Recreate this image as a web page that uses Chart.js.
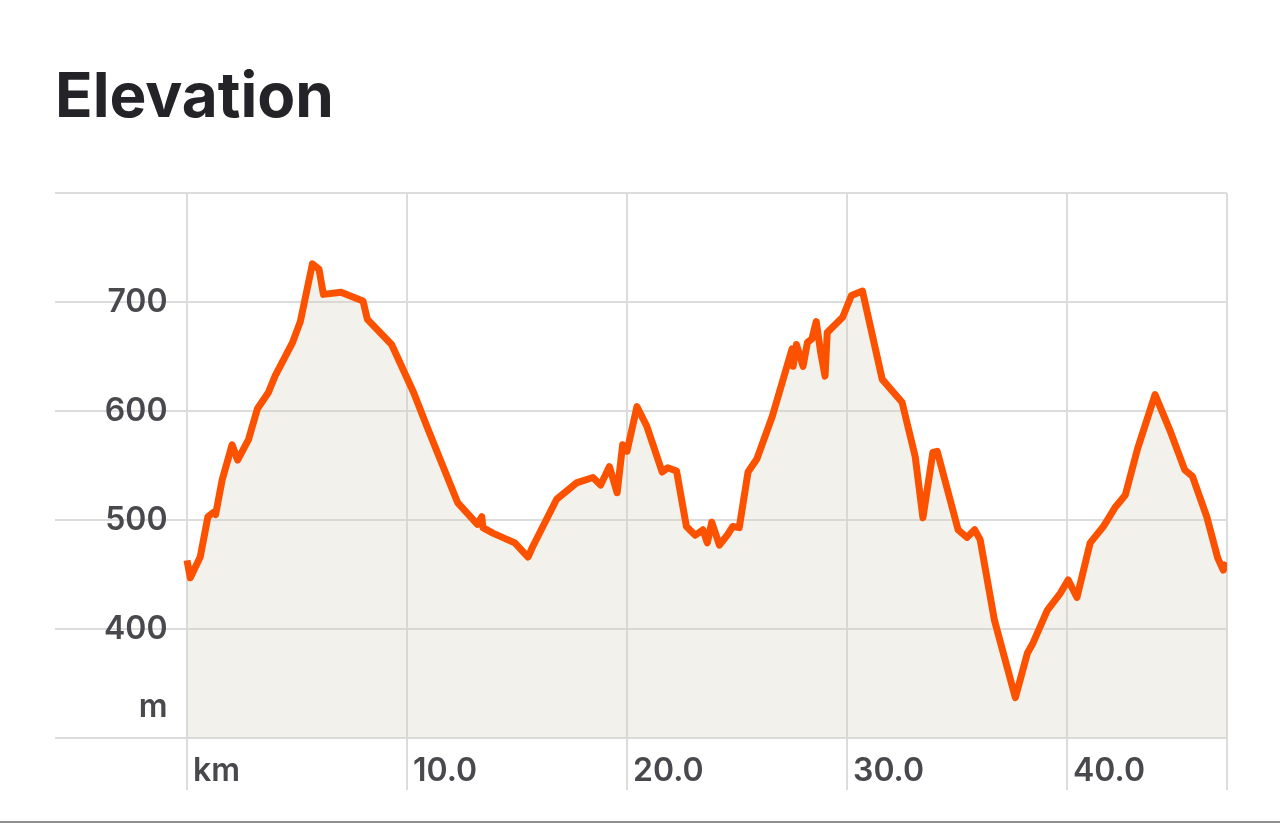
<!DOCTYPE html>
<html>
<head>
<meta charset="utf-8">
<script src="https://cdn.jsdelivr.net/npm/chart.js@4.4.1/dist/chart.umd.min.js"></script>
<style>
  html, body { margin: 0; padding: 0; background: #ffffff; }
  body { width: 1280px; height: 825px; position: relative; overflow: hidden; }
  #title { position: absolute; left: 55px; top: 64px; margin: 0; font: 700 62px Inter, "Noto Sans", sans-serif; line-height: 62px; color: #242428; }
  #wrap { position: absolute; left: 0; top: 0; width: 1280px; height: 825px; }
  #rule { position: absolute; left: 0; top: 821px; width: 1280px; height: 2px; background: #8e8e8e; }
</style>
</head>
<body>
<h1 id="title">Elevation</h1>
<div id="wrap"><canvas id="c" width="1280" height="825"></canvas></div>
<div id="rule"></div>
<script>
// Distance along the route (km)
const distanceKm = [
  0.0, 0.15, 0.6, 0.95, 1.2, 1.3, 1.6, 2.05, 2.3, 2.8, 3.2, 3.7, 4.0, 4.8, 5.15, 5.7, 6.0, 6.2, 7.0, 8.0,
  8.2, 9.3, 10.3, 10.9, 11.5, 12.3, 13.2, 13.4, 13.45, 13.9, 14.9, 15.5, 15.7, 16.8, 17.7, 18.45, 18.8, 19.2, 19.55, 19.8,
  20.0, 20.45, 20.9, 21.6, 21.85, 22.25, 22.7, 23.1, 23.45, 23.65, 23.85, 24.2, 24.55, 24.8, 25.1, 25.5, 25.9, 26.6, 27.05, 27.5,
  27.55, 27.7, 28.0, 28.2, 28.4, 28.6, 28.8, 29.0, 29.1, 29.8, 30.2, 30.7, 31.6, 32.5, 33.1, 33.45, 33.9, 34.1, 35.05, 35.45,
  35.8, 36.05, 36.7, 37.65, 38.2, 38.45, 39.1, 39.7, 40.05, 40.45, 41.05, 41.65, 42.2, 42.65, 43.2, 44.0, 44.7, 45.35, 45.7, 46.35,
  46.85, 47.1, 47.27
];
// Elevation (m)
const elevationM = [
  463, 447, 466, 503, 507, 505, 537, 569, 555, 574, 602, 617, 632, 663, 682, 735, 730, 707, 709, 701,
  684, 661, 617, 586, 556, 516, 496, 503, 493, 488, 479, 466, 475, 519, 534, 539, 532, 549, 525, 569,
  563, 604, 586, 544, 548, 545, 494, 486, 491, 479, 498, 477, 486, 494, 493, 544, 556, 595, 626, 657,
  641, 661, 641, 663, 666, 682, 654, 632, 672, 686, 706, 710, 629, 608, 558, 502, 562, 563, 491, 484,
  491, 482, 408, 337, 378, 387, 417, 433, 445, 429, 479, 494, 512, 523, 565, 615, 581, 546, 540, 503,
  465, 454, 461
];
// Axis ticks
const xTickValues = [0, 10, 20, 30, 40, 47.27];
const xTickLabels = ['km', '10.0', '20.0', '30.0', '40.0', ''];
const yTickValues = [300, 328, 400, 500, 600, 700, 800];
const yTickLabels = ['', 'm', '400', '500', '600', '700', ''];

const points = distanceKm.map((d, i) => ({ x: d, y: elevationM[i] }));
const gridColor = '#dcdcdc';
const tickFont = { family: 'Inter, "Noto Sans", sans-serif', size: 32, weight: '600', lineHeight: '40px' };

new Chart(document.getElementById('c'), {
  type: 'line',
  data: {
    datasets: [{
      data: points,
      borderColor: '#fc5200',
      borderWidth: 7,
      borderJoinStyle: 'round',
      borderCapStyle: 'butt',
      backgroundColor: 'rgba(214,208,190,0.30)',
      fill: 'start',
      pointRadius: 0,
      tension: 0
    }]
  },
  options: {
    responsive: false,
    animation: false,
    events: [],
    layout: { padding: { left: -43, right: 53, top: 193, bottom: 33 } },
    plugins: { legend: { display: false }, tooltip: { enabled: false }, title: { display: false } },
    scales: {
      x: {
        type: 'linear',
        min: -6,
        max: 47.27,
        afterBuildTicks: (scale) => { scale.ticks = xTickValues.map(v => ({ value: v })); },
        border: { display: false },
        grid: { color: gridColor, lineWidth: 2, drawTicks: true, tickLength: 52, tickColor: gridColor },
        ticks: {
          align: 'start',
          crossAlign: 'center',
          labelOffset: 6,
          padding: -19,
          maxRotation: 0,
          autoSkip: false,
          color: '#48484d',
          font: tickFont,
          callback: (v) => { const i = xTickValues.indexOf(v); return i >= 0 ? xTickLabels[i] : ''; }
        }
      },
      y: {
        type: 'linear',
        min: 300,
        max: 800,
        afterBuildTicks: (scale) => { scale.ticks = yTickValues.map(v => ({ value: v })); },
        border: { display: false },
        grid: {
          lineWidth: 2,
          drawTicks: false,
          color: (ctx) => (ctx.tick && ctx.tick.value === 328) ? 'rgba(0,0,0,0)' : gridColor
        },
        ticks: {
          mirror: true,
          crossAlign: 'far',
          padding: 49,
          autoSkip: false,
          color: '#48484d',
          font: tickFont,
          callback: (v) => { const i = yTickValues.indexOf(v); return i >= 0 ? yTickLabels[i] : ''; }
        }
      }
    }
  }
});
</script>
</body>
</html>
